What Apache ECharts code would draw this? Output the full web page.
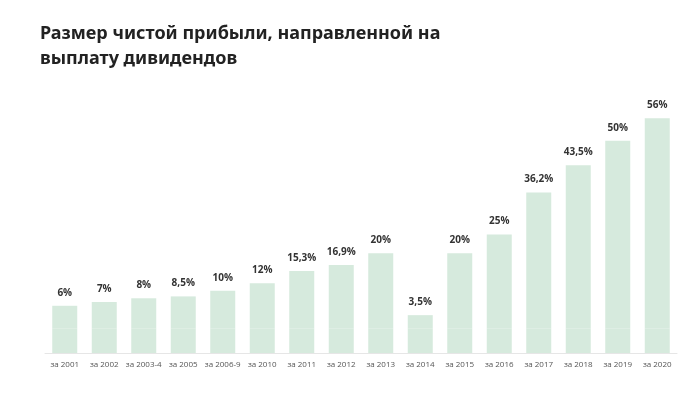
<!DOCTYPE html>
<html>
<head>
<meta charset="utf-8">
<script src="https://cdn.jsdelivr.net/npm/echarts@6/dist/echarts.min.js"></script>
<style>
html,body{margin:0;padding:0;background:#fff;}
#chart{width:700px;height:413px;}
</style>
</head>
<body>
<div id="chart"></div>
<script>
const titleText = 'Размер чистой прибыли, направленной на\nвыплату дивидендов';
const categories = ['за 2001','за 2002','за 2003-4','за 2005','за 2006-9','за 2010','за 2011','за 2012','за 2013','за 2014','за 2015','за 2016','за 2017','за 2018','за 2019','за 2020'];
const values = [6, 7, 8, 8.5, 10, 12, 15.3, 16.9, 20, 3.5, 20, 25, 36.2, 43.5, 50, 56];
const valueLabels = ['6%','7%','8%','8,5%','10%','12%','15,3%','16,9%','20%','3,5%','20%','25%','36,2%','43,5%','50%','56%'];

// visual offset so that short bars keep a visible base (styling constant)
const BASE_OFFSET = 6.6;

const chart = echarts.init(document.getElementById('chart'), null, {renderer:'canvas'});
chart.setOption({
  backgroundColor:'#fff',
  animation:false,
  title:{
    text:titleText,
    left:35, top:16,
    textStyle:{fontFamily:'Noto Sans', fontWeight:'bold', fontSize:18, color:'#222', lineHeight:25}
  },
  grid:{left:45, right:23, top:100, bottom:60},
  xAxis:{
    type:'category',
    data:categories,
    axisLine:{lineStyle:{color:'#e6e6e6', width:1}},
    axisTick:{show:false},
    axisLabel:{color:'#555', fontSize:8, fontFamily:'Open Sans', margin:8, interval:0}
  },
  yAxis:{
    type:'value', min:0, max:67.5,
    show:false, splitLine:{show:false}
  },
  series:[
    {
      type:'bar', stack:'s', silent:true,
      data:categories.map(()=>BASE_OFFSET),
      itemStyle:{color:'#d6eadd'},
      barWidth:25
    },
    {
      type:'bar', stack:'s',
      data:values,
      barWidth:25,
      itemStyle:{color:'#d6eadd'},
      label:{
        show:true, position:'top', distance:8,
        formatter:p=>valueLabels[p.dataIndex],
        fontFamily:'Open Sans', fontWeight:'bold', fontSize:10, color:'#333'
      }
    }
  ]
});
</script>
</body>
</html>
